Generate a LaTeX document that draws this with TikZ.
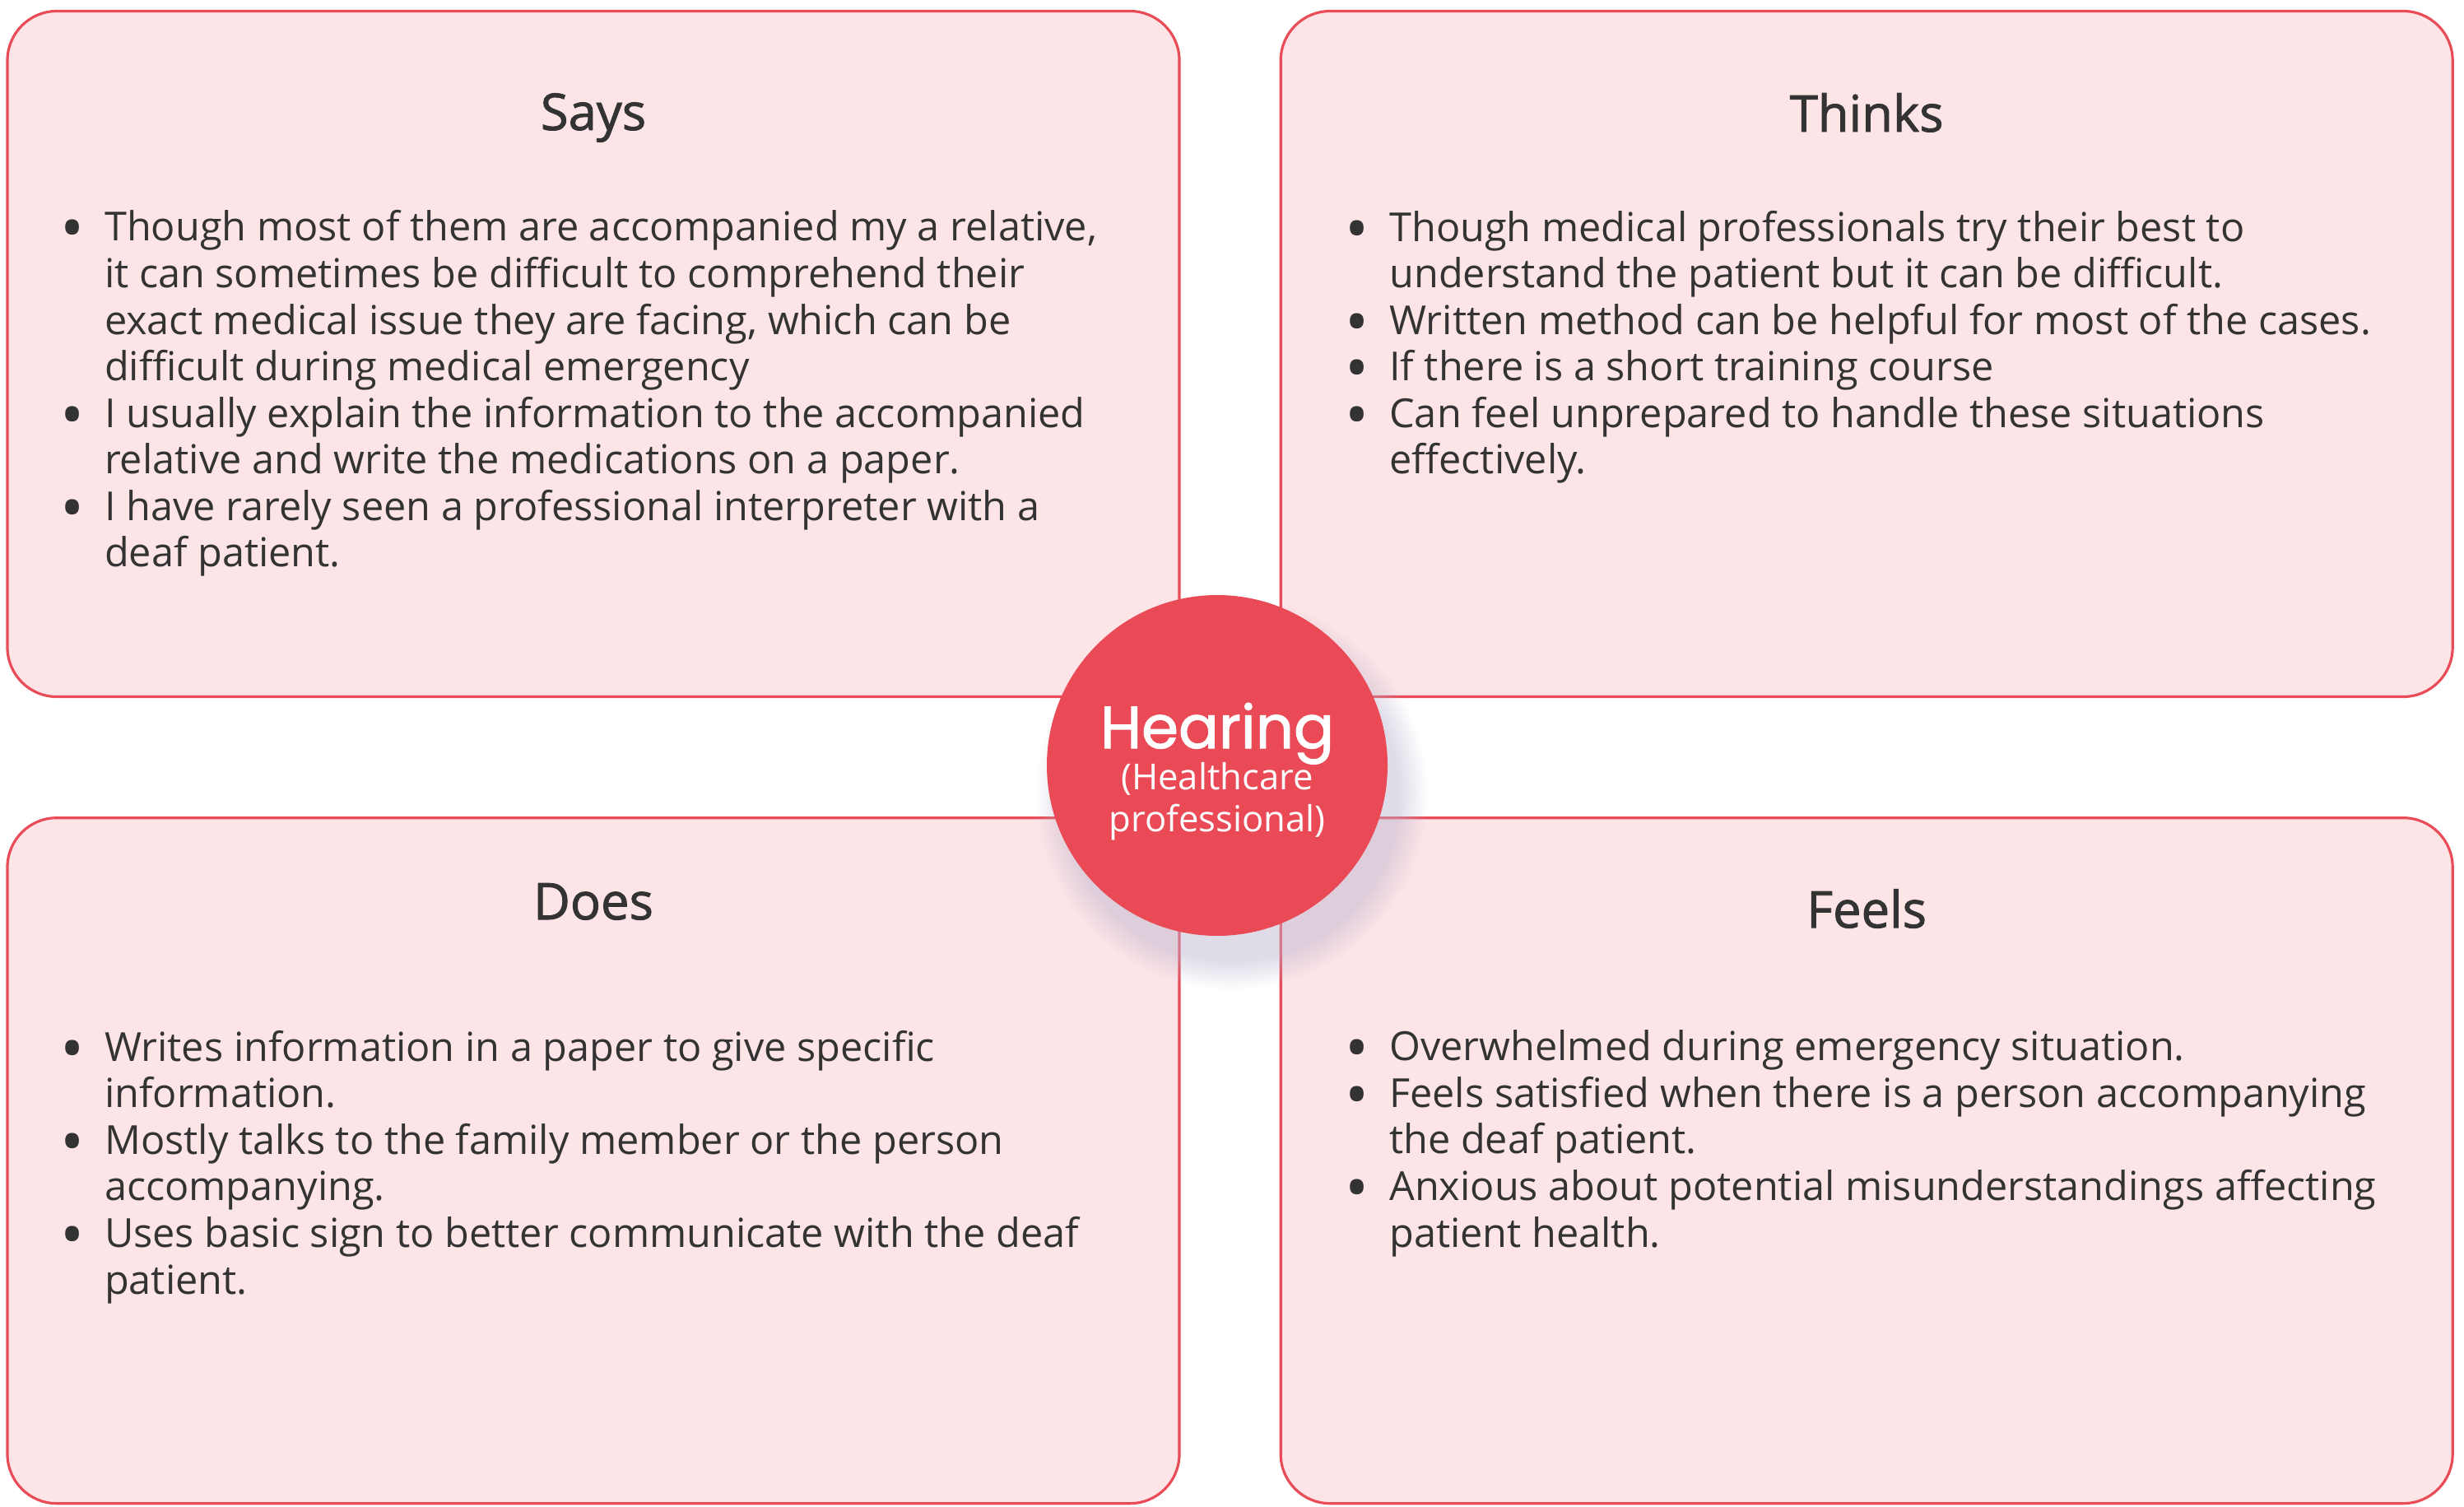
\documentclass[tikz,border=0pt]{standalone}
\usepackage{fontspec}
\usepackage{xcolor}
\usepackage{tikz}
\usetikzlibrary{positioning,shadows,fadings}

\setmainfont{Open Sans}
\newfontfamily\hubfont[FakeBold=1.5]{Poppins}
\newfontfamily\headfont[FakeBold=1.5]{Open Sans}

\definecolor{cardfill}{HTML}{FDE4E7}
\definecolor{cardline}{HTML}{E94B57}
\definecolor{hubred}{HTML}{E94A56}
\definecolor{inktext}{HTML}{333333}
\definecolor{shadowgray}{HTML}{B9B2CC}

\newcommand{\bul}{\llap{\smash{\raisebox{-0.12cm}{\fontsize{22}{16}\selectfont\textbullet}}\hspace{0.25cm}}}

\begin{document}
\begin{tikzpicture}[
    card/.style={rectangle, rounded corners=0.6cm, draw=cardline, fill=cardfill,
                 line width=0.9pt, minimum width=14.24cm, minimum height=8.33cm},
    heading/.style={font=\headfont\fontsize{17.5}{21}\selectfont, text=inktext,
                    anchor=base, inner sep=0pt},
    points/.style={font=\fontsize{13.83}{16.1}\selectfont, text=inktext,
                   align=left, anchor=base west, inner sep=0pt},
    hub/.style={circle, fill=hubred, minimum size=4.14cm, inner sep=0pt,
                circular drop shadow={shadow xshift=0.15cm, shadow yshift=-0.3cm,
                                      shadow scale=1.15, fill=shadowgray, opacity=0.45}},
    hubtext/.style={text=white, anchor=base, inner sep=0pt, align=center}
]
\useasboundingbox (0,0) rectangle (29.94,-18.30);

% Quadrant cards
\node[card] (says) at (7.21,-4.30) {};
\node[card, right=1.2cm of says] (thinks) {};
\node[card, below=1.44cm of says] (does) {};
\node[card, right=1.2cm of does] (feels) {};

% Card headings
\node[heading] (saysttl) at ([yshift=-1.46cm]says.north) {Says};
\node[heading] (thinksttl) at ([yshift=-1.48cm]thinks.north) {Thinks};
\node[heading] (doesttl) at ([yshift=-1.25cm]does.north) {Does};
\node[heading] (feelsttl) at ([yshift=-1.35cm]feels.north) {Feels};

% Card contents (anchored on the last line)
\node[points] (saystxt) at ([xshift=1.19cm, yshift=-6.77cm]says.north west)
    {\bul Though most of them are accompanied my a relative,\\
     it can sometimes be difficult to comprehend their\\
     exact medical issue they are facing, which can be\\
     difficult during medical emergency\\
     \bul I usually explain the information to the accompanied\\
     relative and write the medications on a paper.\\
     \bul I have rarely seen a professional interpreter with a\\
     deaf patient.};
\node[points] (thinkstxt) at ([xshift=1.33cm, yshift=-5.64cm]thinks.north west)
    {\bul Though medical professionals try their best to\\
     understand the patient but it can be difficult.\\
     \bul Written method can be helpful for most of the cases.\\
     \bul If there is a short training course\\
     \bul Can feel unprepared to handle these situations\\
     effectively.};
\node[points] (doestxt) at ([xshift=1.19cm, yshift=-5.80cm]does.north west)
    {\bul Writes information in a paper to give specific\\
     information.\\
     \bul Mostly talks to the family member or the person\\
     accompanying.\\
     \bul Uses basic sign to better communicate with the deaf\\
     patient.};
\node[points] (feelstxt) at ([xshift=1.33cm, yshift=-5.23cm]feels.north west)
    {\bul Overwhelmed during emergency situation.\\
     \bul Feels satisfied when there is a person accompanying\\
     the deaf patient.\\
     \bul Anxious about potential misunderstandings affecting\\
     patient health.};

% Centre persona
\node[hub] (hub) at (14.79,-9.30) {};
\node[hubtext, font=\hubfont\fontsize{20.6}{24}\selectfont] (hubname)
    at ([yshift=0.21cm]hub.center) {Hearing};
\node[hubtext, font=\fontsize{12.4}{14.5}\selectfont] (hubrole)
    at ([yshift=-0.80cm]hub.center) {(Healthcare\\professional)};

\end{tikzpicture}
\end{document}
